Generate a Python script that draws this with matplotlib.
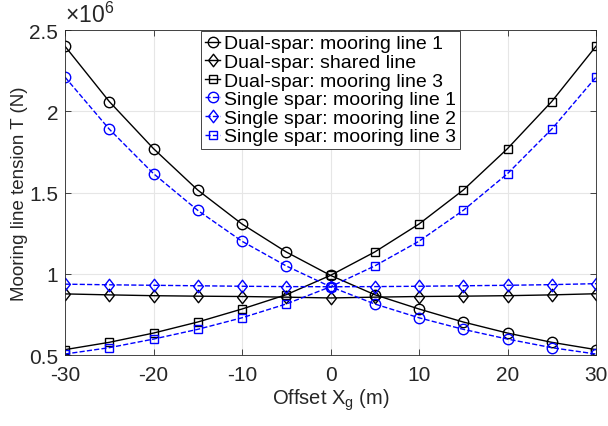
import numpy as np
import matplotlib.pyplot as plt
from matplotlib.ticker import FuncFormatter
from matplotlib.path import Path

plt.rcParams['font.family'] = ['Liberation Sans', 'DejaVu Sans']
plt.rcParams['axes.unicode_minus'] = False

offset = [-30, -25, -20, -15, -10, -5, 0, 5, 10, 15, 20, 25, 30]

# tensions in units of 1e6 N
dual_line1 = [2.40, 2.06, 1.77, 1.515, 1.306, 1.134, 0.99, 0.871, 0.783, 0.703, 0.635, 0.578, 0.533]
dual_shared = [0.876, 0.870, 0.865, 0.862, 0.860, 0.856, 0.851, 0.856, 0.860, 0.862, 0.865, 0.870, 0.877]
dual_line3 = [0.533, 0.578, 0.635, 0.703, 0.783, 0.871, 0.99, 1.134, 1.306, 1.515, 1.77, 2.06, 2.40]
single_line1 = [2.21, 1.89, 1.616, 1.39, 1.20, 1.048, 0.92, 0.814, 0.729, 0.658, 0.598, 0.545, 0.506]
single_line2 = [0.936, 0.932, 0.929, 0.926, 0.923, 0.921, 0.920, 0.921, 0.923, 0.926, 0.929, 0.933, 0.939]
single_line3 = [0.506, 0.545, 0.598, 0.658, 0.729, 0.814, 0.92, 1.048, 1.20, 1.39, 1.616, 1.89, 2.21]

# matlab-like diamond (a bit taller than wide)
diamond = Path([(0, 1), (0.78, 0), (0, -1), (-0.78, 0), (0, 1)],
               [Path.MOVETO, Path.LINETO, Path.LINETO, Path.LINETO, Path.CLOSEPOLY])

fig = plt.figure(figsize=(6.08, 4.27), dpi=100)
ax = fig.add_axes([65/608, 1 - 356/427, (596-65)/608, (356-31)/427])

x = np.array(offset)
s = 1e6
mk = dict(markerfacecolor='none', markersize=7.5, markeredgewidth=1.0)
dm = dict(markerfacecolor='none', markersize=9, markeredgewidth=1.0)
sq = dict(markerfacecolor='none', markersize=5.5, markeredgewidth=1.0)
ax.plot(x, np.array(dual_line1)*s, '-', color='black', marker='o', lw=1.0, label='Dual-spar: mooring line 1', **mk)
ax.plot(x, np.array(dual_shared)*s, '-', color='black', marker=diamond, lw=1.0, label='Dual-spar: shared line', **dm)
ax.plot(x, np.array(dual_line3)*s, '-', color='black', marker='s', lw=1.0, label='Dual-spar: mooring line 3', **sq)
ax.plot(x, np.array(single_line1)*s, '--', color='blue', marker='o', lw=1.0, label='Single spar: mooring line 1', **mk)
ax.plot(x, np.array(single_line2)*s, '--', color='blue', marker=diamond, lw=1.0, label='Single spar: mooring line 2', **dm)
ax.plot(x, np.array(single_line3)*s, '--', color='blue', marker='s', lw=1.0, label='Single spar: mooring line 3', **sq)

ax.set_xlim(-30, 30)
ax.set_ylim(0.5e6, 2.5e6)
ax.set_xticks([-30, -20, -10, 0, 10, 20, 30])
ax.set_yticks([0.5e6, 1e6, 1.5e6, 2e6, 2.5e6])
ax.yaxis.set_major_formatter(FuncFormatter(lambda v, p: '%g' % (v/1e6)))
ax.grid(True, color='#e6e6e6', lw=0.8)
ax.set_axisbelow(True)
for sp in ax.spines.values():
    sp.set_color('#262626')
    sp.set_linewidth(0.6)
ax.tick_params(direction='in', labelsize=15, colors='#262626', length=4, width=0.6, top=True, right=True)
ax.tick_params(axis='x', pad=7)
ax.tick_params(axis='y', pad=5)

ax.set_xlabel('Offset X$_\\mathregular{g}$ (m)', fontsize=14.5, color='#262626', labelpad=2)
ax.set_ylabel('Mooring line tension T (N)', fontsize=13.5, color='#262626')
ax.yaxis.set_label_coords(-0.07, 0.5)
ax.text(0.0, 1.01, '×10$^\\mathregular{6}$', transform=ax.transAxes, fontsize=16.5, color='#262626',
        ha='left', va='bottom')

leg = ax.legend(loc='upper center', bbox_to_anchor=(0.5, 1.0), fontsize=14, frameon=True, fancybox=False,
                edgecolor='#262626', handlelength=0.8, handletextpad=0.2, borderpad=0.2, labelspacing=0.05,
                borderaxespad=0.05, framealpha=1)
leg.get_frame().set_linewidth(0.6)

fig.savefig('out.png', dpi=100)
